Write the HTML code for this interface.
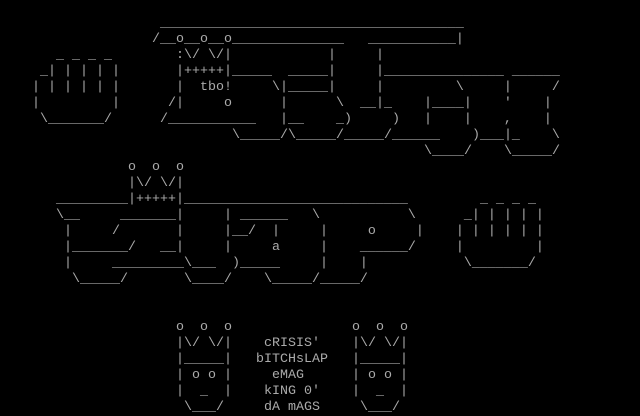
<!DOCTYPE html>
<html><head><meta charset="utf-8"><style>
html,body{margin:0;padding:0;background:#000;}
#c{position:relative;width:640px;height:416px;overflow:hidden;background:#000;}
#c span{position:absolute;white-space:pre;font-family:"Liberation Mono",monospace;font-size:13.333px;line-height:16px;color:#aaa;height:16px;}
</style></head><body><div id="c">
<span style="left:160px;top:16px">______________________________________</span>

<span style="left:152px;top:32px">/__o__o__o______________   ___________|</span>

<span style="left:56px;top:48px">_ _ _ _</span>
<span style="left:176px;top:48px">:\/ \/|</span>
<span style="left:328px;top:48px">|     |</span>

<span style="left:40px;top:64px">_| | | | |</span>
<span style="left:176px;top:64px">|+++++|_____  _____|     |_______________ ______</span>

<span style="left:32px;top:80px">| | | | | |</span>
<span style="left:176px;top:80px">|  tbo!     \|_____|     |         \     |     /</span>

<span style="left:32px;top:96px">|         |</span>
<span style="left:168px;top:96px">/|     o      |      \  __|_    |____|    '    |</span>

<span style="left:40px;top:112px">\_______/</span>
<span style="left:160px;top:112px">/___________   |__    _)     )   |    |    ,    |</span>

<span style="left:232px;top:128px">\_____/\_____/_____/______    )___|_    \</span>

<span style="left:424px;top:144px">\____/    \_____/</span>

<span style="left:128px;top:160px">o  o  o</span>
<span style="left:128px;top:176px">|\/ \/|</span>
<span style="left:56px;top:192px">_________|+++++|____________________________</span>
<span style="left:480px;top:192px">_ _ _ _</span>

<span style="left:56px;top:208px">\__     _______|     | ______   \           \      _| | | | |</span>

<span style="left:64px;top:224px">|     /       |     |__/  |     |     o     |    | | | | | |</span>
<span style="left:64px;top:240px">|_______/   __|     |     a     |    ______/     |         |</span>
<span style="left:64px;top:256px">|     _________\___  )_____     |    |            \_______/</span>
<span style="left:72px;top:272px">\_____/       \____/    \_____/_____/</span>

<span style="left:176px;top:320px">o  o  o</span>
<span style="left:352px;top:320px">o  o  o</span>
<span style="left:176px;top:336px">|\/ \/|    cRISIS'    |\/ \/|</span>
<span style="left:176px;top:352px">|_____|   bITCHsLAP   |_____|</span>
<span style="left:176px;top:368px">| o o |     eMAG      | o o |</span>
<span style="left:176px;top:384px">|  _  |    kING 0'    |  _  |</span>
<span style="left:184px;top:400px">\___/     dA mAGS     \___/</span>
</div></body></html>
